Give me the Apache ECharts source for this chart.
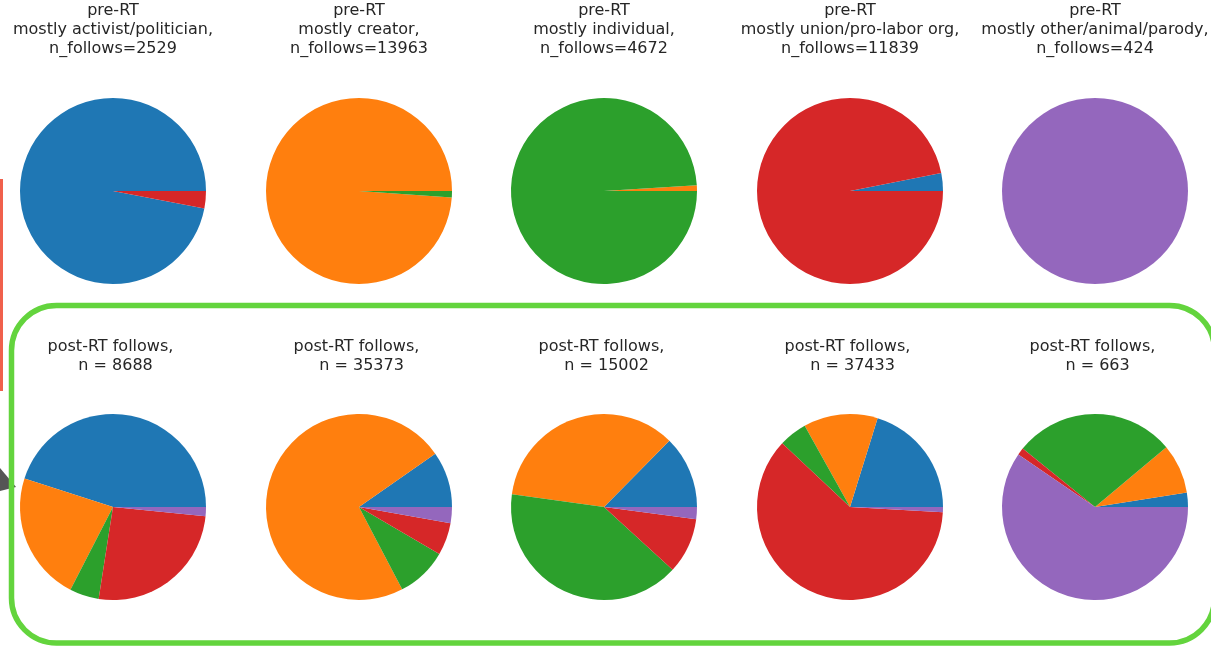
<!DOCTYPE html>
<html>
<head>
<meta charset="utf-8">
<script src="https://cdn.jsdelivr.net/npm/echarts@6/dist/echarts.min.js"></script>
<style>
html,body{margin:0;padding:0;background:#fff;}
#main{width:1211px;height:648px;}
</style>
</head>
<body>
<div id="main"></div>
<script>
// Categories (slice order, matplotlib counter-clockwise from 3 o'clock)
const categories = ['activist/politician', 'creator', 'individual', 'union/pro-labor org', 'other/animal/parody'];
const colors = ['#1f77b4', '#ff7f0e', '#2ca02c', '#d62728', '#9467bd'];

// Top row titles
const preGroups = ['mostly activist/politician,', 'mostly creator,', 'mostly individual,', 'mostly union/pro-labor org,', 'mostly other/animal/parody,'];
const preN = [2529, 13963, 4672, 11839, 424];
const postN = [8688, 35373, 15002, 37433, 663];

// Shares (%) per category
const preActivist = [97.0, 0, 0, 3.0, 0];
const preCreator = [0, 98.9, 1.1, 0, 0];
const preIndividual = [0, 1.0, 99.0, 0, 0];
const preUnion = [3.1, 0, 0, 96.9, 0];
const preOther = [0, 0, 0, 0, 100];

const postActivist = [45.1, 22.4, 5.1, 25.9, 1.6];
const postCreator = [9.7, 72.9, 8.9, 5.6, 2.8];
const postIndividual = [12.6, 35.2, 40.4, 9.7, 2.1];
const postUnion = [20.2, 12.9, 4.9, 61.1, 0.9];
const postOther = [2.5, 8.6, 28.1, 1.25, 59.6];

const preRows = [preActivist, preCreator, preIndividual, preUnion, preOther];
const postRows = [postActivist, postCreator, postIndividual, postUnion, postOther];

// layout
const colX = [113, 359, 604, 850, 1095];
const topY = 191, botY = 507, R = 93;
const FONT = 'DejaVu Sans';

function pieSeries(values, cx, cy) {
  return {
    type: 'pie',
    center: [cx, cy],
    radius: R,
    startAngle: 0,
    clockwise: false,
    silent: true,
    label: {show: false},
    labelLine: {show: false},
    itemStyle: {borderWidth: 0},
    emphasis: {disabled: true},
    data: values.map((v, i) => ({name: categories[i], value: v, itemStyle: {color: colors[i]}}))
  };
}

const series = [];
preRows.forEach((vals, i) => series.push(pieSeries(vals, colX[i], topY)));
postRows.forEach((vals, i) => series.push(pieSeries(vals, colX[i], botY)));

const graphics = [];
// red bar at left edge
graphics.push({type: 'rect', z: 1, shape: {x: 0, y: 179, width: 3, height: 212}, style: {fill: '#f0604c'}});
// gray arrowhead
graphics.push({type: 'polygon', z: 1, shape: {points: [[0, 468], [16, 487], [0, 491]]}, style: {fill: '#555'}});
// green rounded frame
graphics.push({type: 'rect', z: 10, shape: {x: 11.5, y: 305.5, width: 1203, height: 337.5, r: 45}, style: {fill: 'none', stroke: '#63d43d', lineWidth: 5.5}});

preGroups.forEach((g, i) => {
  graphics.push({type: 'text', z: 20, x: colX[i], y: 1,
    style: {text: 'pre-RT\n' + g + '\nn_follows=' + preN[i], align: 'center', verticalAlign: 'top',
      fontFamily: FONT, fontSize: 16, lineHeight: 19, fill: '#262626'}});
});
postN.forEach((n, i) => {
  graphics.push({type: 'text', z: 20, x: colX[i], y: 337,
    style: {text: 'post-RT follows, \n n = ' + n, align: 'center', verticalAlign: 'top',
      fontFamily: FONT, fontSize: 16, lineHeight: 19, fill: '#262626'}});
});

const chart = echarts.init(document.getElementById('main'), null, {renderer: 'canvas'});
chart.setOption({
  animation: false,
  backgroundColor: '#fff',
  series: series,
  graphic: graphics
});
</script>
</body>
</html>
